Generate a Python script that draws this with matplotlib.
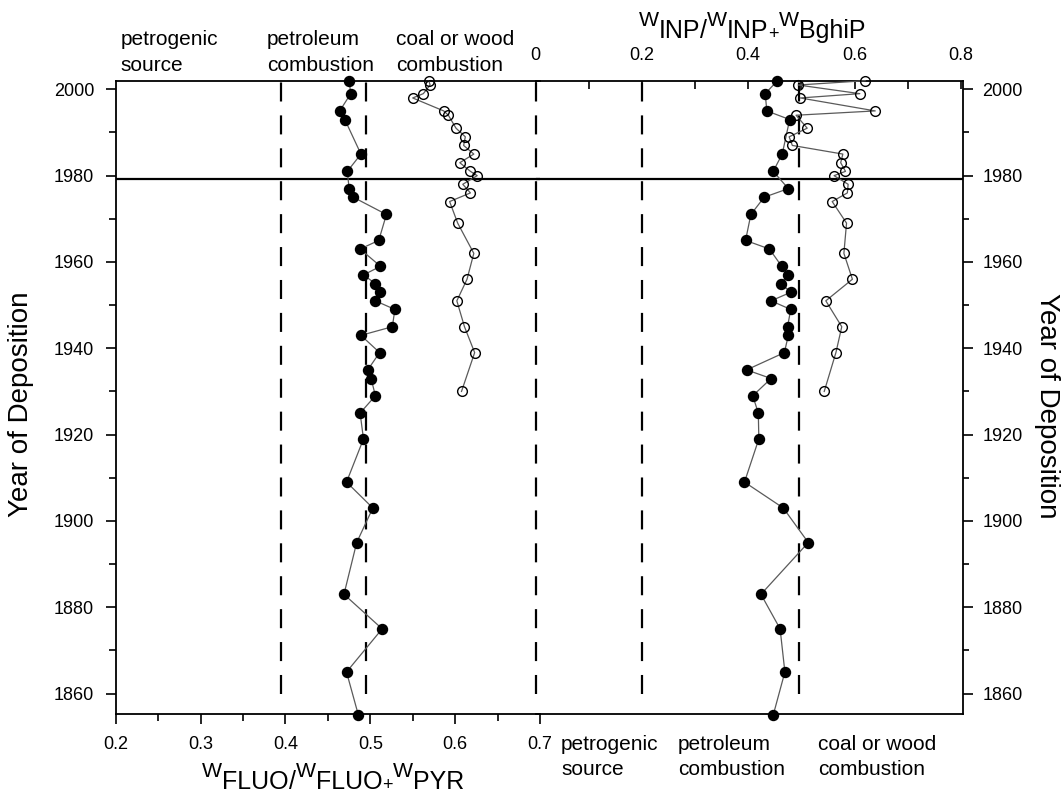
import matplotlib
matplotlib.use('Agg')
import matplotlib.pyplot as plt
from matplotlib.ticker import FixedLocator, FixedFormatter, MultipleLocator

plt.rcParams['font.family'] = ['Liberation Sans', 'DejaVu Sans']
plt.rcParams['lines.scale_dashes'] = False

# ---------------- data ----------------
years_filled = [2002, 1999, 1995, 1993, 1985, 1981, 1977, 1975, 1971, 1965, 1963,
                1959, 1957, 1955, 1953, 1951, 1949, 1945, 1943, 1939, 1935, 1933,
                1929, 1925, 1919, 1909, 1903, 1895, 1883, 1875, 1865, 1855]
fluo_filled = [0.475, 0.477, 0.464, 0.470, 0.489, 0.473, 0.475, 0.480, 0.519, 0.510,
               0.488, 0.512, 0.492, 0.506, 0.511, 0.506, 0.529, 0.526, 0.489, 0.511,
               0.497, 0.501, 0.506, 0.488, 0.492, 0.472, 0.503, 0.484, 0.469, 0.514,
               0.472, 0.486]
inp_filled = [0.455, 0.432, 0.435, 0.478, 0.464, 0.447, 0.4755, 0.430, 0.405, 0.395,
              0.440, 0.463, 0.4755, 0.461, 0.4805, 0.443, 0.480, 0.474, 0.4755, 0.468,
              0.397, 0.443, 0.4085, 0.419, 0.420, 0.393, 0.466, 0.513, 0.424, 0.460,
              0.469, 0.447]

years_open = [2002, 2001, 1999, 1998, 1995, 1994, 1991, 1989, 1987, 1985, 1983, 1981,
              1980, 1978, 1976, 1974, 1969, 1962, 1956, 1951, 1945, 1939, 1930]
fluo_open = [0.569, 0.5705, 0.5625, 0.550, 0.5865, 0.592, 0.601, 0.612, 0.610, 0.622,
             0.6055, 0.618, 0.626, 0.609, 0.618, 0.5935, 0.603, 0.622, 0.614, 0.602,
             0.611, 0.623, 0.6075]
inp_open = [0.620, 0.494, 0.610, 0.498, 0.639, 0.490, 0.511, 0.477, 0.483, 0.578,
            0.574, 0.583, 0.5615, 0.588, 0.5865, 0.558, 0.585, 0.580, 0.596, 0.546,
            0.576, 0.565, 0.543]

fluo_boundaries = [0.395, 0.495, 0.695]
inp_boundaries = [0.2, 0.496]
boundary_years = [1860, 2002]
marker_year = 1979.2

fluo_ticks = [0.2, 0.3, 0.4, 0.5, 0.6, 0.7]
fluo_ticklabels = ['0.2', '0.3', '0.4', '0.5', '0.6', '0.7']
inp_ticks = [0, 0.2, 0.4, 0.6, 0.8]
inp_ticklabels = ['0', '0.2', '0.4', '0.6', '0.8']
year_ticks = [1860, 1880, 1900, 1920, 1940, 1960, 1980, 2000]
year_ticklabels = ['1860', '1880', '1900', '1920', '1940', '1960', '1980', '2000']

source_lines = [['petrogenic', 'source'], ['petroleum', 'combustion'],
                ['coal or wood', 'combustion']]

# axis-title pieces: (text, role) role: 'w' raised W, 'm' main, 'p' small plus
fluo_title = [('W', 'w'), ('FLUO', 'm'), ('/', 'm'), ('W', 'w'), ('FLUO', 'm'),
              ('+', 'p'), ('W', 'w'), ('PYR', 'm')]
inp_title = [('W', 'w'), ('INP', 'm'), ('/', 'm'), ('W', 'w'), ('INP', 'm'),
             ('+', 'p'), ('W', 'w'), ('BghiP', 'm')]

# ---------------- layout ----------------
W, H = 1064, 798
fig = plt.figure(figsize=(W / 100, H / 100), dpi=100)


def fx(px):
    return px / W


def fy(py):
    return 1 - py / H


top, bot = 80.7, 714.3
axL = fig.add_axes([fx(115.7), fy(bot), (540 - 115.7) / W, (bot - top) / H])
axR = fig.add_axes([fx(535.6), fy(bot), (963 - 535.6) / W, (bot - top) / H])
for ax in (axL, axR):
    ax.patch.set_visible(False)
    ax.set_ylim(1855.2, 2002)
    for s in ax.spines.values():
        s.set_linewidth(1.3)

axL.set_xlim(0.2, 0.7)
axR.set_xlim(0, 0.8041)
axL.spines['right'].set_visible(False)
axR.spines['left'].set_visible(False)

line_kw = dict(color='#5a5a5a', lw=0.9, zorder=3, clip_on=False)
axL.plot(fluo_filled, years_filled, marker='o', ms=7.2, mfc='black', mec='black', **line_kw)
axL.plot(fluo_open, years_open, marker='o', ms=7.0, mfc='none', mec='black', mew=1.0, **line_kw)
axR.plot(inp_filled, years_filled, marker='o', ms=7.2, mfc='black', mec='black', **line_kw)
axR.plot(inp_open, years_open, marker='o', ms=7.0, mfc='none', mec='black', mew=1.0, **line_kw)

dash = (0, (13.7, 10.0))
for v in fluo_boundaries:
    axL.plot([v, v], boundary_years, color='black', lw=1.6, ls=dash, zorder=2)
for v in inp_boundaries:
    axR.plot([v, v], boundary_years, color='black', lw=1.6, ls=dash, zorder=2)

axL.axhline(marker_year, color='black', lw=1.6, zorder=2)
axR.axhline(marker_year, color='black', lw=1.6, zorder=2)

# ticks left axes
axL.xaxis.set_major_locator(FixedLocator(fluo_ticks))
axL.xaxis.set_major_formatter(FixedFormatter(fluo_ticklabels))
axL.xaxis.set_minor_locator(MultipleLocator(0.05))
axL.yaxis.set_major_locator(FixedLocator(year_ticks))
axL.yaxis.set_major_formatter(FixedFormatter(year_ticklabels))
axL.yaxis.set_minor_locator(MultipleLocator(10))
axL.tick_params(axis='x', which='major', direction='out', length=7.5, width=1.2,
                labelsize=13, pad=8, top=False)
axL.tick_params(axis='x', which='minor', direction='out', length=4.8, width=1.2, top=False)
axL.tick_params(axis='y', which='major', direction='out', length=7.5, width=1.2,
                labelsize=13, pad=8)
axL.tick_params(axis='y', which='minor', direction='out', length=4.8, width=1.2)

# ticks right axes
axR.xaxis.set_ticks_position('top')
axR.xaxis.set_major_locator(FixedLocator(inp_ticks))
axR.xaxis.set_major_formatter(FixedFormatter(inp_ticklabels))
axR.xaxis.set_minor_locator(MultipleLocator(0.1))
axR.tick_params(axis='x', which='major', direction='in', length=6, width=1.2,
                labelsize=13, pad=12, top=True, bottom=False, labeltop=True,
                labelbottom=False)
axR.tick_params(axis='x', which='minor', direction='in', length=6, width=1.2,
                top=True, bottom=False)
axR.yaxis.set_ticks_position('right')
axR.yaxis.set_major_locator(FixedLocator(year_ticks))
axR.yaxis.set_major_formatter(FixedFormatter(year_ticklabels))
axR.yaxis.set_minor_locator(MultipleLocator(10))
axR.tick_params(axis='y', which='major', direction='out', length=7, width=1.2,
                labelsize=13, pad=7, left=False, right=True, labelright=True,
                labelleft=False)
axR.tick_params(axis='y', which='minor', direction='out', length=4, width=1.2,
                left=False, right=True)

# ---------------- rich axis titles ----------------
renderer = fig.canvas.get_renderer()


def rich_title(pieces, xc, ybase, size):
    em = size * 100 / 72.0
    cfg = {'m': (1.0, 0.0), 'w': (0.85, 0.48 * em), 'p': (0.72, -1.0)}
    items = []
    xcur = 0.0
    for s, role in pieces:
        scale, dy = cfg[role]
        t = fig.text(0, 0, s, fontsize=size * scale, ha='left', va='baseline')
        w = t.get_window_extent(renderer).width
        items.append((t, xcur, dy))
        xcur += w
    x0 = xc - xcur / 2.0
    for t, xo, dy in items:
        t.set_position((fx(x0 + xo), fy(ybase - dy)))


rich_title(fluo_title, 333, 789, 18)
rich_title(inp_title, 752, 38, 18)

fig.text(fx(21), fy(404), 'Year of Deposition', rotation=90, fontsize=20,
         ha='center', va='center')
fig.text(fx(1047), fy(406), 'Year of Deposition', rotation=270, fontsize=20,
         ha='center', va='center')

# source annotations
top_x = [120.5, 267, 396]
bot_x = [561, 678, 818]
for (l1, l2), x in zip(source_lines, top_x):
    fig.text(fx(x), fy(45), l1, fontsize=15, ha='left', va='baseline')
    fig.text(fx(x), fy(71), l2, fontsize=15, ha='left', va='baseline')
for (l1, l2), x in zip(source_lines, bot_x):
    fig.text(fx(x), fy(750), l1, fontsize=15, ha='left', va='baseline')
    fig.text(fx(x), fy(775), l2, fontsize=15, ha='left', va='baseline')

fig.savefig('out.png', dpi=100)
